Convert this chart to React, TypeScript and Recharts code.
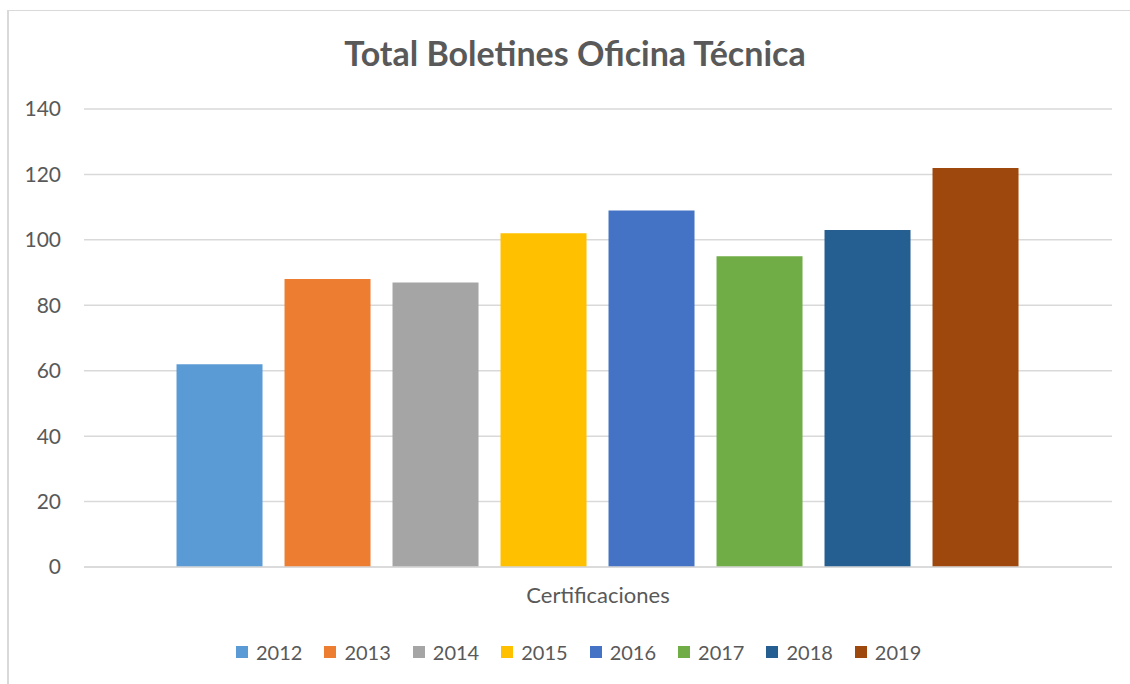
import React from "react";
import { BarChart, Bar, XAxis, YAxis, CartesianGrid } from "recharts";

const categories = ["Certificaciones"];
const years = ["2012", "2013", "2014", "2015", "2016", "2017", "2018", "2019"];
const totals = [62, 88, 87, 102, 109, 95, 103, 122];
const colors = ["#5B9BD5", "#ED7D31", "#A5A5A5", "#FFC000", "#4472C4", "#70AD47", "#255E91", "#9E480E"];
const yTicks = [0, 20, 40, 60, 80, 100, 120, 140];

const data = categories.map((name) => {
  const row: Record<string, string | number> = { name };
  years.forEach((y, i) => {
    row[y] = totals[i];
  });
  return row;
});

const font = "Lato, 'Open Sans', sans-serif";
const textColor = "#595959";

const App: React.FC = () => {
  return (
    <div style={{ position: "absolute", left: 0, top: 0, width: 1130, height: 684, background: "#fff", fontFamily: font }}>
      <div
        style={{
          position: "absolute",
          left: 7,
          top: 10,
          right: 0,
          bottom: 0,
          borderLeft: "2px solid #d9d9d9",
          borderTop: "1px solid #d9d9d9",
        }}
      />
      <div
        style={{
          position: "absolute",
          left: 0,
          width: 1150,
          top: 32,
          textAlign: "center",
          fontSize: 34,
          fontWeight: 700,
          color: textColor,
        }}
      >
        Total Boletines Oficina Técnica
      </div>
      <div style={{ position: "absolute", left: 0, top: 0 }}>
        <BarChart
          width={1130}
          height={684}
          data={data}
          margin={{ top: 109, right: 18, left: 0, bottom: 0 }}
          barCategoryGap="9%"
          barGap={22}
        >
          <CartesianGrid vertical={false} stroke="#d9d9d9" strokeWidth={1.5} />
          <XAxis
            dataKey="name"
            height={117}
            tickLine={false}
            tickSize={0}
            tickMargin={20}
            axisLine={{ stroke: "#d9d9d9", strokeWidth: 1.5 }}
            tick={{ fill: textColor, fontSize: 22, fontFamily: font }}
          />
          <YAxis
            width={84}
            domain={[0, 140]}
            ticks={yTicks}
            tickLine={false}
            axisLine={false}
            tickSize={0}
            tickMargin={23}
            tick={{ fill: textColor, fontSize: 21, fontFamily: font }}
          />
          {years.map((y, i) => (
            <Bar key={y} dataKey={y} fill={colors[i]} isAnimationActive={false} />
          ))}
        </BarChart>
      </div>
      <div style={{ position: "absolute", left: 236, top: 640, display: "flex", alignItems: "center" }}>
        {years.map((y, i) => (
          <div key={y} style={{ display: "flex", alignItems: "center", marginRight: 22 }}>
            <div style={{ width: 12, height: 12, background: colors[i], marginRight: 8 }} />
            <span style={{ fontSize: 20, color: textColor }}>{y}</span>
          </div>
        ))}
      </div>
    </div>
  );
};

export default App;
